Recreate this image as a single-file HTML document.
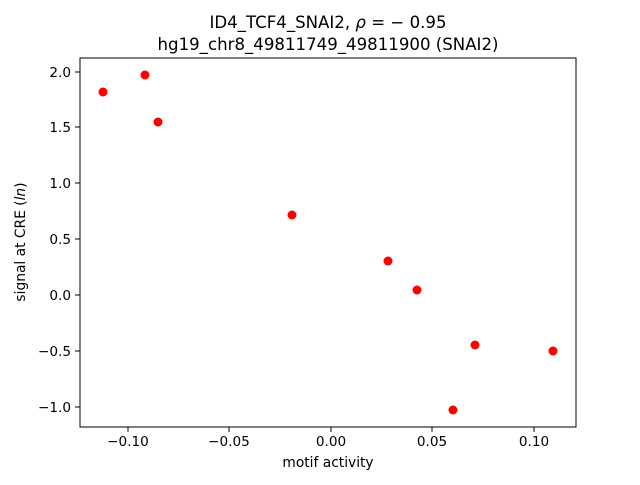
<!DOCTYPE html>
<html><head><style>body{margin:0;background:#fff}</style></head><body>
<svg width="640" height="480" xmlns="http://www.w3.org/2000/svg" font-family="DejaVu Sans, Liberation Sans, sans-serif">
<rect width="640" height="480" fill="#fff"/>
<g fill="red">
<circle cx="103" cy="92" r="4.5"/><circle cx="145" cy="75" r="4.5"/><circle cx="158" cy="122" r="4.5"/>
<circle cx="292" cy="215" r="4.5"/><circle cx="388" cy="261" r="4.5"/><circle cx="417" cy="290" r="4.5"/>
<circle cx="475" cy="345" r="4.5"/><circle cx="553" cy="351" r="4.5"/><circle cx="453" cy="410" r="4.5"/>
</g>
<rect x="80" y="58" width="496" height="369" fill="none" stroke="#000" stroke-width="1"/>
<g stroke="#000" stroke-width="1">
<line x1="128" y1="427" x2="128" y2="432"/><line x1="229" y1="427" x2="229" y2="432"/><line x1="331" y1="427" x2="331" y2="432"/><line x1="432" y1="427" x2="432" y2="432"/><line x1="534" y1="427" x2="534" y2="432"/>
<line x1="75" y1="72" x2="80" y2="72"/><line x1="75" y1="127" x2="80" y2="127"/><line x1="75" y1="183" x2="80" y2="183"/><line x1="75" y1="239" x2="80" y2="239"/><line x1="75" y1="295" x2="80" y2="295"/><line x1="75" y1="351" x2="80" y2="351"/><line x1="75" y1="407" x2="80" y2="407"/>
</g>
<g font-size="13.6" text-anchor="middle">
<text x="128" y="446">−0.10</text><text x="229" y="446">−0.05</text><text x="331" y="446">0.00</text><text x="432" y="446">0.05</text><text x="534" y="446">0.10</text>
</g>
<g font-size="13.6" text-anchor="end">
<text x="71" y="77">2.0</text><text x="71" y="132">1.5</text><text x="71" y="188">1.0</text><text x="71" y="244">0.5</text><text x="71" y="300">0.0</text><text x="71" y="356">−0.5</text><text x="71" y="412">−1.0</text>
</g>
<text x="328" y="467" font-size="13.8" text-anchor="middle">motif activity</text>
<text transform="translate(25,242) rotate(-90)" font-size="13.8" text-anchor="middle">signal at CRE (<tspan font-style="italic">ln</tspan>)</text>
<text x="328" y="28" font-size="16.6" text-anchor="middle">ID4_TCF4_SNAI2, <tspan font-style="italic">ρ</tspan> = − 0.95</text>
<text x="328" y="50" font-size="16.6" text-anchor="middle">hg19_chr8_49811749_49811900 (SNAI2)</text>
</svg>
</body></html>
